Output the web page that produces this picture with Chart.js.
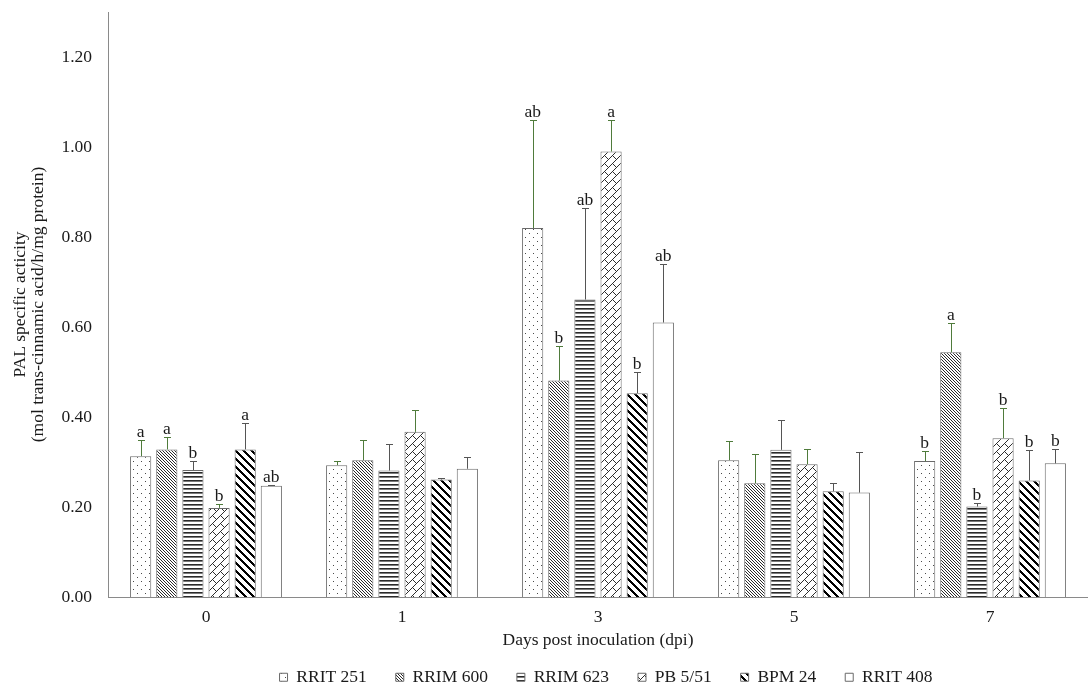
<!DOCTYPE html>
<html>
<head>
<meta charset="utf-8">
<script src="https://cdn.jsdelivr.net/npm/chart.js@4.4.1/dist/chart.umd.min.js"></script>
<style>
  html, body { margin: 0; padding: 0; background: #fff; overflow: hidden; }
  #wrap { width: 1088px; height: 686px; }
</style>
</head>
<body>
<div id="wrap"><canvas id="c" width="1088" height="686"></canvas></div>
<script>
// Sampling days (dpi)
const days = ['0', '1', '3', '5', '7'];
const clones = ['RRIT 251', 'RRIM 600', 'RRIM 623', 'PB 5/51', 'BPM 24', 'RRIT 408'];

// Mean PAL specific activity per clone
const rrit251 = [0.313, 0.293, 0.820, 0.304, 0.302];
const rrim600 = [0.328, 0.304, 0.481, 0.253, 0.544];
const rrim623 = [0.282, 0.281, 0.661, 0.327, 0.201];
const pb551   = [0.198, 0.367, 0.990, 0.295, 0.353];
const bpm24   = [0.328, 0.261, 0.453, 0.235, 0.259];
const rrit408 = [0.247, 0.285, 0.610, 0.232, 0.297];

// Standard errors (upper whisker)
const errRrit251 = [0.037, 0.009, 0.239, 0.043, 0.022];
const errRrim600 = [0.028, 0.046, 0.076, 0.065, 0.064];
const errRrim623 = [0.021, 0.058, 0.203, 0.067, 0.007];
const errPb551   = [0.009, 0.049, 0.069, 0.033, 0.066];
const errBpm24   = [0.058, 0.003, 0.048, 0.019, 0.068];
const errRrit408 = [0.003, 0.026, 0.131, 0.091, 0.033];

// Significance letters per clone and day
const sigRrit251 = ['a', '', 'ab', '', 'b'];
const sigRrim600 = ['a', '', 'b', '', 'a'];
const sigRrim623 = ['b', '', 'ab', '', 'b'];
const sigPb551   = ['b', '', 'a', '', 'b'];
const sigBpm24   = ['a', '', 'b', '', 'b'];
const sigRrit408 = ['ab', '', 'ab', '', 'b'];

// Y axis ticks
const yTicks = [0, 0.2, 0.4, 0.6, 0.8, 1.0, 1.2];
const yMax = 1.3;

const FONT = '"Liberation Serif", "Times New Roman", serif';
const LEGEND_PAD = 29;
const ctx = document.getElementById('c').getContext('2d');

function tile(size, draw) {
  const c = document.createElement('canvas');
  c.width = size; c.height = size;
  const g = c.getContext('2d');
  g.fillStyle = '#ffffff';
  g.fillRect(0, 0, size, size);
  draw(g, size);
  return ctx.createPattern(c, 'repeat');
}

const patDots = tile(8, (g) => {
  g.fillStyle = '#4a4a4a';
  g.fillRect(1, 1, 1, 1);
  g.fillRect(5, 5, 1, 1);
});
const patThinDiag = tile(3, (g, s) => {
  g.fillStyle = '#2a2a2a';
  for (let i = 0; i < s; i++) g.fillRect(i, i, 1, 1);
});
const patHoriz = tile(4, (g) => {
  g.fillStyle = '#2a2a2a';
  g.fillRect(0, 0, 4, 1);
  g.fillStyle = '#7a7a7a';
  g.fillRect(0, 1, 4, 1);
});
const patZigzag = tile(8, (g) => {
  g.fillStyle = '#2e2e2e';
  for (let i = 0; i < 8; i++) g.fillRect(i, 7 - i, 1, 1);
  for (let k = 0; k < 4; k++) g.fillRect(4 + k, 3 + k, 1, 1);
});
const patWideDiag = tile(8, (g) => {
  g.fillStyle = '#000000';
  for (let i = 0; i < 8; i++) for (let k = 0; k < 3; k++) g.fillRect((i + k) % 8, i, 1, 1);
});

const greenErr = '#4f7b3b';
const grayErr = '#555555';

const series = [
  { label: clones[0], data: rrit251, err: errRrit251, sig: sigRrit251, bg: patDots, errColor: greenErr },
  { label: clones[1], data: rrim600, err: errRrim600, sig: sigRrim600, bg: patThinDiag, errColor: greenErr },
  { label: clones[2], data: rrim623, err: errRrim623, sig: sigRrim623, bg: patHoriz, errColor: grayErr },
  { label: clones[3], data: pb551, err: errPb551, sig: sigPb551, bg: patZigzag, errColor: greenErr },
  { label: clones[4], data: bpm24, err: errBpm24, sig: sigBpm24, bg: patWideDiag, errColor: grayErr },
  { label: clones[5], data: rrit408, err: errRrit408, sig: sigRrit408, bg: '#ffffff', errColor: grayErr }
];

// Upward error whiskers with caps, plus significance letters above them
const errorBars = {
  id: 'errorBars',
  afterDatasetsDraw(chart) {
    const y = chart.scales.y;
    const g = chart.ctx;
    g.save();
    chart.data.datasets.forEach((ds, i) => {
      const meta = chart.getDatasetMeta(i);
      meta.data.forEach((bar, j) => {
        const v = ds.data[j];
        const e = ds.errors[j];
        const top = y.getPixelForValue(v + e);
        const base = y.getPixelForValue(v);
        const x = Math.round(bar.x) + 0.5;
        const ty = Math.round(top) + 0.5;
        g.strokeStyle = ds.errColor;
        g.lineWidth = 1;
        g.beginPath();
        g.moveTo(x, base);
        g.lineTo(x, ty);
        g.moveTo(x - 3.5, ty);
        g.lineTo(x + 3.5, ty);
        g.stroke();
        const letter = ds.letters[j];
        if (letter) {
          g.fillStyle = '#1a1a1a';
          g.font = '17.5px ' + FONT;
          g.textAlign = 'center';
          g.textBaseline = 'alphabetic';
          g.fillText(letter, bar.x, top - 3);
        }
      });
    });
    g.restore();
  }
};

// Nudge the legend row so it sits under the middle of the plot
const legendNudge = {
  id: 'legendNudge',
  afterLayout(chart) {
    chart.legend.left += 8;
    chart.legend.right += 8;
  }
};

new Chart(ctx, {
  type: 'bar',
  data: {
    labels: days,
    datasets: series.map(s => ({
      label: s.label,
      data: s.data,
      errors: s.err,
      letters: s.sig,
      errColor: s.errColor,
      backgroundColor: s.bg,
      borderColor: '#6a6a6a',
      borderWidth: 1,
      borderSkipped: 'bottom',
      barPercentage: 0.81,
      categoryPercentage: 0.80
    }))
  },
  plugins: [errorBars, legendNudge],
  options: {
    responsive: false,
    animation: false,
    events: [],
    layout: { padding: { top: 12, right: 0, bottom: -10, left: 0 } },
    plugins: {
      tooltip: { enabled: false },
      legend: {
        position: 'bottom',
        fullSize: false,
        labels: {
          boxWidth: 8,
          boxHeight: 8,
          padding: LEGEND_PAD,
          color: '#1a1a1a',
          font: { family: FONT, size: 17.5 }
        }
      }
    },
    scales: {
      x: {
        grid: { display: false, drawTicks: false },
        border: { display: true, color: '#8a8a8a', width: 1 },
        ticks: { color: '#1a1a1a', padding: 10, font: { family: FONT, size: 17.5 } },
        title: {
          display: true,
          text: 'Days post inoculation (dpi)',
          color: '#1a1a1a',
          font: { family: FONT, size: 17.5 },
          padding: { top: 0, bottom: -11 }
        },
        afterFit(scale) { scale.height = 71.5 - LEGEND_PAD; }
      },
      y: {
        min: 0,
        max: yMax,
        grid: { display: false, drawTicks: false },
        border: { display: true, color: '#8a8a8a', width: 1 },
        ticks: {
          stepSize: 0.2,
          padding: 16,
          color: '#1a1a1a',
          font: { family: FONT, size: 17.5 },
          callback: (v) => v.toFixed(2)
        },
        afterBuildTicks(scale) {
          scale.ticks = yTicks.map(v => ({ value: v }));
        },
        title: {
          display: true,
          text: ['PAL specific acticity', '(mol trans-cinnamic acid/h/mg protein)'],
          color: '#1a1a1a',
          font: { family: FONT, size: 17.5, lineHeight: 1.05 },
          padding: { top: 11, bottom: 0 }
        },
        afterFit(scale) {
          scale.width = 108;
          scale.paddingTop = 0;
          scale.paddingBottom = 0;
        }
      }
    }
  }
});
</script>
</body>
</html>
